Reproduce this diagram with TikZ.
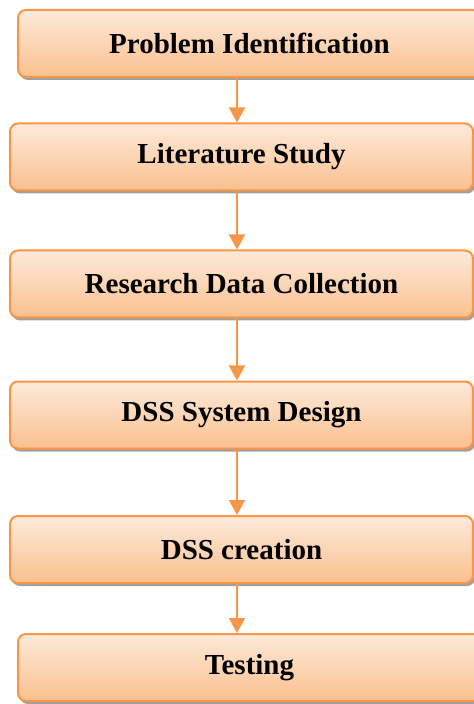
\documentclass[tikz,border=0pt]{standalone}
\usepackage{fontspec}
\setmainfont{Liberation Serif}
\usetikzlibrary{arrows.meta,shadows}
\definecolor{stepline}{RGB}{247,150,70}
\definecolor{steptop}{RGB}{253,234,218}
\definecolor{stepbot}{RGB}{250,192,143}
\definecolor{stepshade}{RGB}{160,160,160}
\tikzset{
  box/.style={draw=stepline, line width=1pt, rounded corners=4pt,
              top color=steptop, bottom color=stepbot,
              minimum width=231.5pt, minimum height=33.5pt, inner sep=0pt,
              align=center, font=\fontsize{14.5}{17}\selectfont\bfseries,
              drop shadow={shadow xshift=1pt, shadow yshift=-1.5pt,
                           fill=stepshade, opacity=1}},
  arr/.style={-{Triangle[width=8pt, length=7.5pt]}, line width=1pt, draw=stepline}
}
\begin{document}
\begin{tikzpicture}[x=0.5pt, y=-0.5pt]
  \useasboundingbox (0,0) rectangle (474,704);
  % process steps, top to bottom
  \node[box] (pi)  at (249.5,43.5)  {Problem Identification};
  \node[box] (ls)  at (241.5,157)   {Literature Study};
  \node[box] (rdc) at (241.5,284)   {Research Data Collection};
  \node[box] (sd)  at (241.5,415)   {DSS System Design};
  \node[box] (dc)  at (241.5,549.5) {DSS creation};
  \node[box] (ts)  at (249.5,667.5) {Testing};
  \coordinate (ax) at (237,0);

  \draw[arr] (pi.south -| ax)  -- (ls.north -| ax);
  \draw[arr] (ls.south -| ax)  -- (rdc.north -| ax);
  \draw[arr] (rdc.south -| ax) -- (sd.north -| ax);
  \draw[arr] (sd.south -| ax)  -- (dc.north -| ax);
  \draw[arr] (dc.south -| ax)  -- (ts.north -| ax);
\end{tikzpicture}
\end{document}
